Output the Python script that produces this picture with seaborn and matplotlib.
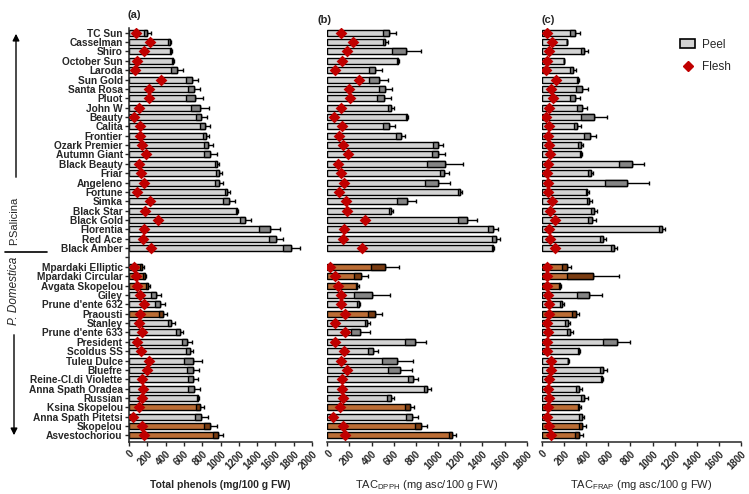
import numpy as np
import pandas as pd
import matplotlib
matplotlib.use("Agg")
import matplotlib.pyplot as plt
import seaborn as sns
from matplotlib.patches import Patch
from matplotlib.lines import Line2D

# ---------------- data ----------------
salicina = ["TC Sun", "Casselman", "Shiro", "October Sun", "Laroda", "Sun Gold",
            "Santa Rosa", "Pluot", "John W", "Beauty", "Calita", "Frontier",
            "Ozark Premier", "Autumn Giant", "Black Beauty", "Friar", "Angeleno",
            "Fortune", "Simka", "Black Star", "Black Gold", "Florentia", "Red Ace",
            "Black Amber"]
domestica = ["Mpardaki Elliptic", "Mpardaki Circular", "Avgata Skopelou", "Giley",
             "Prune d'ente 632", "Praousti", "Stanley", "Prune d'ente 633", "President",
             "Scoldus SS", "Tuleu Dulce", "Bluefre", "Reine-Cl.di Violette",
             "Anna Spath Oradea", "Russian", "Ksina Skopelou", "Anna Spath Pitetsi",
             "Skopelou", "Asvestochoriou"]
greek = ["Mpardaki Elliptic", "Mpardaki Circular", "Avgata Skopelou", "Praousti",
         "Ksina Skopelou", "Skopelou", "Asvestochoriou"]

# Total phenols (mg/100 g FW)
phen_peel_s = [197, 445, 460, 485, 525, 690, 712, 718, 775, 792, 832, 838, 865, 890,
               965, 985, 985, 1075, 1095, 1182, 1270, 1540, 1605, 1775]
phen_sd_s = [38, 15, 15, 10, 65, 66, 63, 91, 98, 56, 58, 32, 48, 73, 20, 35, 45, 25,
             65, 13, 60, 115, 80, 90]
phen_flesh_s = [80, 226, 164, 88, 66, 349, 222, 222, 106, 58, 117, 117, 139, 182, 106,
                128, 160, 88, 226, 178, 320, 160, 153, 244]
phen_peel_d = [145, 172, 208, 299, 343, 372, 463, 554, 634, 663, 700, 700, 700, 712,
               757, 775, 792, 890, 976]
phen_sd_d = [22, 18, 18, 54, 55, 44, 37, 36, 58, 37, 103, 66, 58, 63, 11, 45, 75, 73, 54]
phen_flesh_d = [55, 80, 92, 117, 160, 117, 106, 139, 92, 128, 218, 193, 142, 153, 142,
                112, 48, 142, 160]

# TAC DPPH (mg asc/100 g FW)
dpph_peel_s = [560, 524, 713, 638, 433, 464, 524, 512, 575, 716, 560, 662, 1002, 1002,
               1063, 1057, 996, 1198, 716, 572, 1264, 1499, 1523, 1499]
dpph_sd_s = [57, 24, 133, 6, 61, 84, 57, 66, 30, 9, 54, 42, 45, 58, 159, 39, 112, 21,
             88, 18, 84, 45, 36, 9]
dpph_flesh_s = [123, 235, 178, 135, 66, 283, 199, 205, 120, 60, 135, 108, 138, 187, 96,
                120, 147, 102, 169, 175, 340, 147, 138, 316]
dpph_peel_d = [524, 304, 271, 403, 283, 430, 361, 298, 795, 415, 632, 656, 777, 903,
               572, 743, 765, 843, 1129]
dpph_sd_d = [126, 66, 12, 163, 12, 60, 24, 87, 96, 45, 138, 105, 45, 30, 33, 43, 57, 54, 33]
dpph_flesh_d = [24, 72, 93, 120, 120, 163, 72, 157, 72, 150, 120, 175, 132, 129, 141,
                114, 54, 138, 157]

# TAC FRAP (mg asc/100 g FW)
frap_peel_s = [298, 229, 383, 199, 277, 329, 359, 298, 359, 470, 320, 434, 350, 353,
               811, 440, 772, 410, 428, 470, 449, 1082, 552, 651]
frap_sd_s = [46, 0, 30, 0, 28, 9, 54, 46, 45, 121, 30, 54, 20, 10, 115, 24, 199, 12,
             24, 27, 36, 28, 27, 30]
frap_flesh_s = [42, 87, 66, 48, 36, 127, 84, 96, 66, 33, 60, 54, 66, 72, 54, 48, 54, 57,
                87, 72, 115, 66, 69, 115]
frap_peel_d = [223, 464, 163, 428, 181, 305, 232, 253, 675, 332, 238, 555, 546, 335,
               383, 338, 359, 365, 332]
frap_sd_d = [39, 236, 6, 112, 18, 33, 21, 24, 121, 9, 6, 33, 9, 24, 30, 15, 24, 30, 36]
frap_flesh_d = [42, 45, 42, 57, 63, 60, 48, 57, 48, 48, 78, 78, 66, 54, 66, 57, 48, 63, 78]

panel_titles = ["(a)", "(b)", "(c)"]
xlabels = ["Total phenols (mg/100 g FW)",
           r"TAC$_{\mathrm{DPPH}}$ (mg asc/100 g FW)",
           r"TAC$_{\mathrm{FRAP}}$ (mg asc/100 g FW)"]
xmax = [2000, 1800, 1800]

# ---------------- style ----------------
sns.set_style("ticks")
plt.rcParams["font.family"] = ["Liberation Sans", "DejaVu Sans"]
plt.rcParams["mathtext.fontset"] = "custom"
plt.rcParams["mathtext.rm"] = "Liberation Sans"
plt.rcParams["mathtext.it"] = "Liberation Sans:italic"
plt.rcParams["mathtext.bf"] = "Liberation Sans:bold"

GRAY = "#d3d3d3"
ORANGE = "#d2691e"
DARK = {"gray": "#858585", "orange": "#7a3c12"}
RED = "#c00000"

cultivars = salicina + [" "] + domestica
groups = ["orange" if c in greek else "gray" for c in cultivars]
pos = np.arange(len(cultivars))


def join(s, d):
    return np.array(list(s) + [np.nan] + list(d), dtype=float)


datasets = [
    (join(phen_peel_s, phen_peel_d), join(phen_sd_s, phen_sd_d), join(phen_flesh_s, phen_flesh_d)),
    (join(dpph_peel_s, dpph_peel_d), join(dpph_sd_s, dpph_sd_d), join(dpph_flesh_s, dpph_flesh_d)),
    (join(frap_peel_s, frap_peel_d), join(frap_sd_s, frap_sd_d), join(frap_flesh_s, frap_flesh_d)),
]

W, H = 749, 494
fig = plt.figure(figsize=(W / 100, H / 100), dpi=100)
ax_px = [(129, 312), (327.3, 526.7), (542, 741)]
top_px, bot_px = 28, 442
ax_h = bot_px - top_px
label_y = (bot_px - 485) / ax_h

for i, (peel, sd, flesh) in enumerate(datasets):
    x0, x1 = ax_px[i]
    ax = fig.add_axes([x0 / W, 1 - bot_px / H, (x1 - x0) / W, ax_h / H])
    df = pd.DataFrame({"cultivar": cultivars, "peel": peel, "sd": sd,
                       "flesh": flesh, "group": groups})
    sns.barplot(data=df, x="peel", y="cultivar", hue="group", order=cultivars,
                hue_order=["gray", "orange"], palette={"gray": GRAY, "orange": ORANGE},
                dodge=False, width=0.64, edgecolor="black", linewidth=1.0,
                errorbar=None, legend=False, ax=ax)
    # lower half of the SD drawn as a darker box inside the bar
    ok = ~np.isnan(peel)
    ax.barh(pos[ok], sd[ok], left=(peel - sd)[ok], height=0.64,
            color=[DARK[g] for g, k in zip(groups, ok) if k],
            edgecolor="black", linewidth=1.0, zorder=3)
    ax.errorbar(peel[ok], pos[ok], xerr=[np.zeros(ok.sum()), sd[ok]], fmt="none",
                ecolor="black", elinewidth=1.0, capsize=1.6, capthick=1.0, zorder=2)
    sns.stripplot(data=df, x="flesh", y="cultivar", order=cultivars, jitter=False,
                  marker="D", color=RED, size=6, linewidth=0, ax=ax, zorder=6)

    ax.set_xlim(0, xmax[i])
    ax.set_ylim(43.7, -0.5)
    ax.set_ylabel("")
    ticks = list(range(0, xmax[i] + 1, 200))
    ax.set_xticks(ticks)
    ax.set_xticklabels([str(t) for t in ticks], rotation=45, ha="right",
                       rotation_mode="anchor", fontsize=7, fontweight="bold")
    ax.tick_params(axis="x", length=3, width=1, pad=2)
    for s in ["top", "right"]:
        ax.spines[s].set_visible(False)
    ax.spines["bottom"].set_linewidth(1.1)
    if i == 0:
        ax.spines["left"].set_linewidth(1.1)
        ax.tick_params(axis="y", length=3, width=1, pad=1.5)
        for lab in ax.get_yticklabels():
            lab.set_fontsize(7.3)
            lab.set_fontweight("bold")
        ax.set_xlabel(xlabels[i], fontsize=7.5, fontweight="bold")
    else:
        ax.spines["left"].set_visible(False)
        ax.tick_params(axis="y", left=False, labelleft=False)
        ax.set_xlabel(xlabels[i], fontsize=8)
    ax.xaxis.set_label_coords(0.5, label_y)
    ax.xaxis.label.set_va("center")
    if i == 2:
        handles = [Patch(facecolor=GRAY, edgecolor="black", linewidth=1.2),
                   Line2D([], [], marker="D", color=RED, linestyle="none", markersize=5.5)]
        ax.legend(handles, ["Peel", "Flesh"], loc="upper left",
                  bbox_to_anchor=(0.64, 1.0), frameon=False, fontsize=8.5,
                  handlelength=1.3, handleheight=0.8, labelspacing=0.9,
                  handletextpad=0.6)

# panel titles
fig.text(127 / W, 1 - 15 / H, "(a)", fontsize=8, fontweight="bold", va="center")
fig.text(318 / W, 1 - 20 / H, "(b)", fontsize=8, fontweight="bold", va="center")
fig.text(541 / W, 1 - 20 / H, "(c)", fontsize=8, fontweight="bold", va="center")

# species annotations on the left
def fpx(x, y):
    return (x / W, 1 - y / H)

fig.add_artist(matplotlib.patches.FancyArrowPatch(fpx(16, 180), fpx(16, 31),
               transform=fig.transFigure, arrowstyle="-|>", mutation_scale=10,
               color="black", linewidth=1.0))
fig.add_artist(matplotlib.patches.FancyArrowPatch(fpx(14, 332), fpx(14, 438),
               transform=fig.transFigure, arrowstyle="-|>", mutation_scale=10,
               color="black", linewidth=1.0))
fig.add_artist(Line2D([5 / W, 47 / W], [1 - 252 / H, 1 - 252 / H],
               transform=fig.transFigure, color="black", linewidth=1.2))
fig.text(*fpx(14, 221), "P.Salicina", rotation=90, ha="center", va="center", fontsize=8)
fig.text(*fpx(14, 291), "P. Domestica", rotation=90, ha="center", va="center",
         fontsize=8.5, style="italic")

fig.savefig("out.png", dpi=100)
